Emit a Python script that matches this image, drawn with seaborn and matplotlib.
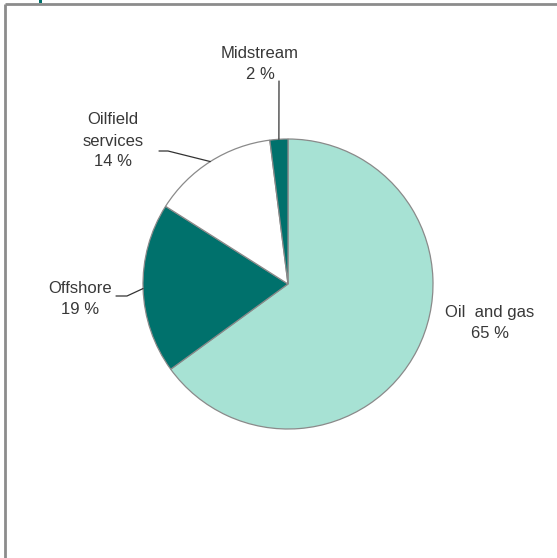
import matplotlib
matplotlib.use("Agg")
import matplotlib.pyplot as plt
import numpy as np
import seaborn as sns

sns.set_theme(style="white")
plt.rcParams["font.family"] = ["Liberation Sans", "DejaVu Sans"]

# Share of segments (percent), listed clockwise from 12 o'clock
segments = ["Oil  and gas", "Offshore", "Oilfield\nservices", "Midstream"]
shares = [65, 19, 14, 2]
colors = ["#a7e2d4", "#00716c", "#ffffff", "#00716c"]

W, H = 557, 558
fig = plt.figure(figsize=(W / 100, H / 100), dpi=100)
ax = fig.add_axes([0, 0, 1, 1])

cx, cy, r = 288, H - 284, 145
wedges, _ = ax.pie(shares, colors=colors, startangle=90, counterclock=False,
                   center=(cx, cy), radius=r, frame=True,
                   wedgeprops=dict(edgecolor="#8a8a8a", linewidth=0.9))
ax.set_xlim(0, W)
ax.set_ylim(0, H)
ax.set_aspect("equal")
ax.axis("off")

text_kw = dict(fontsize=12, color="#383838", ha="center", va="center",
               linespacing=1.5)
line_kw = dict(color="#333333", linewidth=0.9)

def edge_point(w):
    mid = np.deg2rad((w.theta1 + w.theta2) / 2)
    return cx + r * np.cos(mid), cy + r * np.sin(mid)

labels = [f"{s}\n{v} %" for s, v in zip(segments, shares)]

# Oil and gas: label sits beside the wedge, no leader
ax.text(490, H - 323, labels[0], **text_kw)

# Offshore
px, py = edge_point(wedges[1])
ax.plot([px, 127, 116], [py, H - 296, H - 296], **line_kw)
ax.text(80, H - 299, labels[1], **text_kw)

# Oilfield services
px, py = edge_point(wedges[2])
ax.plot([px, 168, 159], [py, H - 151, H - 151], **line_kw)
ax.text(113, H - 141, labels[2], **text_kw)

# Midstream
px, py = edge_point(wedges[3])
ax.plot([px, 279], [py, H - 81], **line_kw)
ax.text(260, H - 64, labels[3], **text_kw)

# Panel frame (top and left edges) with accent tick
ax.plot([5, W], [H - 4, H - 4], color="#8c8c8c", linewidth=2, solid_capstyle="butt")
ax.plot([5, 5], [H - 4, 0], color="#8c8c8c", linewidth=2, solid_capstyle="butt")
ax.add_patch(plt.Rectangle((39, H - 3), 3, 3, color="#00716c", lw=0))

fig.savefig("out.png", dpi=100)
